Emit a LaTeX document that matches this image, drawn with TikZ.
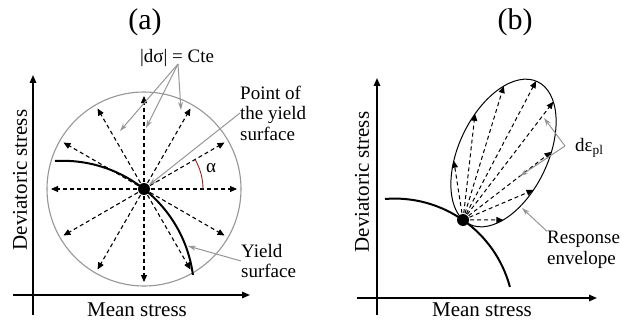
\documentclass[tikz,border=0pt]{standalone}
\usepackage{fontspec}
\setmainfont{Liberation Serif}
\usetikzlibrary{arrows.meta}
\definecolor{annot}{RGB}{150,150,150}
\definecolor{alphared}{RGB}{150,35,35}
\begin{document}
\begin{tikzpicture}[x=1pt,y=1pt,
    axis/.style={line width=1.6pt,-{Triangle[length=8pt,width=6.5pt]}},
    yield/.style={line width=2pt},
    dasharrow/.style={line width=1.1pt,dash pattern=on 4pt off 3pt,-{Triangle[length=7pt,width=6pt]}},
    note/.style={annot,line width=1pt,-{Stealth[length=8pt,width=5pt]}},
    lbl/.style={font=\fontsize{21}{24}\selectfont,inner sep=0pt},
    txt/.style={font=\fontsize{19}{20.5}\selectfont,inner sep=0pt,align=left},
    ttl/.style={font=\fontsize{30}{32}\selectfont,inner sep=0pt},
    dot/.style={circle,fill,inner sep=0pt,minimum size=12pt}]
\useasboundingbox (0,0) rectangle (621,322);

% Titles
\node[ttl] (ta) at (145,300) {(a)};
\node[ttl] (tb) at (515,300) {(b)};

% Draw axes (a)
\coordinate (xa0) at (13,27);
\coordinate (xa1) at (250,27);
\coordinate (ya0) at (33,7);
\coordinate (ya1) at (33,247);
\draw[axis] (xa0) -- (xa1);
\draw[axis] (ya0) -- (ya1);
\node[lbl] (msa) at (137,12.5) {Mean stress};
\node[lbl,rotate=90] (dsa) at (20,142) {Deviatoric stress};

% Circle of stress increments
\coordinate (ca) at (144,133);
\draw[annot,line width=1.1pt] (ca) circle (97);
\foreach \a in {0,30,...,330}
  \path (ca) ++(\a:93) coordinate (ta\a);
\foreach \a in {0,30,...,330}
  \draw[dasharrow] (ca) -- (ta\a);

% Yield surface (a)
\coordinate (ysa0) at (55,161);
\draw[yield] (ysa0) arc[start angle=93.3,end angle=7.6,radius=131.5];
\node[dot] (pa) at (ca) {};

% Angle alpha
\coordinate (alst) at (203,133);
\draw[alphared,line width=0.9pt] (alst) arc[start angle=0,end angle=30,radius=59];
\node[txt] (alpha) at (211,154) {α};

% Labels (a)
\node[txt] (dsig) at (177,264) {|dσ| = Cte};
\coordinate (dsfoot) at (178,258);
\coordinate (ds1) at (120,191);
\coordinate (ds2) at (146,194);
\coordinate (ds3) at (181,212);
\foreach \i in {1,2,3}
  \draw[note] (dsfoot) -- (ds\i);

\node[txt,anchor=west] (pys) at (240,209) {Point of\\the yield\\surface};
\draw[note] (pys.west) -- (pa);

\node[txt,anchor=west] (ysf) at (241,61) {Yield\\surface};
\coordinate (ysp) at (188,76);
\draw[note] (ysf.west) -- (ysp);

% Draw axes (b)
\coordinate (xb0) at (357,24);
\coordinate (xb1) at (597,24);
\coordinate (yb0) at (377,7);
\coordinate (yb1) at (377,244);
\draw[axis] (xb0) -- (xb1);
\draw[axis] (yb0) -- (yb1);
\node[lbl] (msb) at (482,12) {Mean stress};
\node[lbl,rotate=90] (dsb) at (362,140) {Deviatoric stress};

% Response envelope
\coordinate (cb) at (463,102);
\begin{scope}[shift={(503.5,169)},rotate=64.5]
  \draw[line width=1pt] (0,0) ellipse [x radius=79,y radius=44.5];
  \foreach \t [count=\i] in {111,73,40,2,-31,-74,-105,-140}
    \coordinate (tb\i) at (\t:79 and 44.5);
\end{scope}
\foreach \i in {1,...,8}
  \draw[dasharrow,line width=1pt] (cb) -- (tb\i);

% Yield surface (b)
\coordinate (ysb0) at (385,123);
\draw[yield] (ysb0) arc[start angle=94.7,end angle=15,radius=119.2];
\node[dot] (pb) at (cb) {};

% Labels (b)
\node[txt,anchor=west] (deps) at (575,174) {dε\textsubscript{pl}};
\coordinate (dev) at (565,176);
\coordinate (de1) at (544,204);
\coordinate (de2) at (520,146);
\draw[note] (dev) -- (de1);
\draw[note] (dev) -- (de2);

\node[txt,anchor=west] (renv) at (547,72) {Response\\envelope};
\coordinate (rea) at (522,114);
\draw[note] (renv.north west) -- (rea);
\end{tikzpicture}
\end{document}
